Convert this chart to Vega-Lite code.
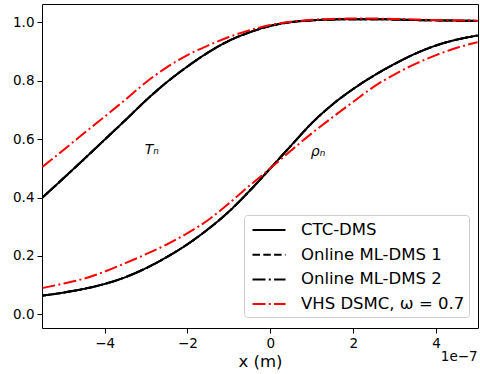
{
  "$schema": "https://vega.github.io/schema/vega-lite/v6.json",
  "width": 436,
  "height": 324,
  "autosize": {"type": "none"},
  "padding": {"left": 42, "top": 4, "right": 2, "bottom": 46},
  "config": {
    "font": "DejaVu Sans",
    "view": {"stroke": "#000000", "strokeWidth": 1},
    "axis": {
      "grid": false,
      "domain": false,
      "tickColor": "#000000",
      "tickSize": 5,
      "tickWidth": 1,
      "labelColor": "#000000",
      "labelFont": "DejaVu Sans",
      "labelFontSize": 13.5,
      "titleFont": "DejaVu Sans",
      "titleFontSize": 16.5,
      "titleFontWeight": "normal",
      "titleColor": "#000000"
    },
    "legend": {
      "orient": "none",
      "legendX": 202,
      "legendY": 211,
      "title": null,
      "symbolType": "M-1.65,0H1.65",
      "symbolFillColor": "transparent",
      "symbolStrokeWidth": 2,
      "symbolSize": 400,
      "symbolOffset": 10,
      "labelFont": "DejaVu Sans",
      "labelFontSize": 16.5,
      "labelColor": "#000000",
      "labelLimit": 0,
      "fillColor": "rgba(255,255,255,0.8)",
      "strokeColor": "#cccccc",
      "cornerRadius": 3,
      "padding": 4,
      "rowPadding": 4.7,
      "labelOffset": 21
    }
  },
  "datasets": {
    "curves": [
      {"x": -5.5, "qty": "T", "ctc": 0.400, "ml1": 0.400, "ml2": 0.400, "vhs": 0.505},
      {"x": -5.0, "qty": "T", "ctc": 0.465, "ml1": 0.465, "ml2": 0.465, "vhs": 0.562},
      {"x": -4.5, "qty": "T", "ctc": 0.531, "ml1": 0.531, "ml2": 0.531, "vhs": 0.620},
      {"x": -4.0, "qty": "T", "ctc": 0.598, "ml1": 0.598, "ml2": 0.598, "vhs": 0.677},
      {"x": -3.5, "qty": "T", "ctc": 0.665, "ml1": 0.665, "ml2": 0.665, "vhs": 0.735},
      {"x": -3.0, "qty": "T", "ctc": 0.733, "ml1": 0.733, "ml2": 0.733, "vhs": 0.795},
      {"x": -2.5, "qty": "T", "ctc": 0.795, "ml1": 0.795, "ml2": 0.795, "vhs": 0.846},
      {"x": -2.0, "qty": "T", "ctc": 0.849, "ml1": 0.849, "ml2": 0.849, "vhs": 0.888},
      {"x": -1.5, "qty": "T", "ctc": 0.897, "ml1": 0.897, "ml2": 0.897, "vhs": 0.921},
      {"x": -1.0, "qty": "T", "ctc": 0.937, "ml1": 0.937, "ml2": 0.937, "vhs": 0.950},
      {"x": -0.5, "qty": "T", "ctc": 0.966, "ml1": 0.966, "ml2": 0.966, "vhs": 0.973},
      {"x": 0.0, "qty": "T", "ctc": 0.988, "ml1": 0.988, "ml2": 0.988, "vhs": 0.991},
      {"x": 0.5, "qty": "T", "ctc": 1.001, "ml1": 1.001, "ml2": 1.001, "vhs": 1.002},
      {"x": 1.0, "qty": "T", "ctc": 1.007, "ml1": 1.007, "ml2": 1.007, "vhs": 1.009},
      {"x": 1.5, "qty": "T", "ctc": 1.010, "ml1": 1.010, "ml2": 1.010, "vhs": 1.012},
      {"x": 2.0, "qty": "T", "ctc": 1.011, "ml1": 1.011, "ml2": 1.011, "vhs": 1.013},
      {"x": 2.5, "qty": "T", "ctc": 1.011, "ml1": 1.011, "ml2": 1.011, "vhs": 1.013},
      {"x": 3.0, "qty": "T", "ctc": 1.010, "ml1": 1.010, "ml2": 1.010, "vhs": 1.012},
      {"x": 3.5, "qty": "T", "ctc": 1.008, "ml1": 1.008, "ml2": 1.008, "vhs": 1.010},
      {"x": 4.0, "qty": "T", "ctc": 1.007, "ml1": 1.007, "ml2": 1.007, "vhs": 1.008},
      {"x": 4.5, "qty": "T", "ctc": 1.006, "ml1": 1.006, "ml2": 1.006, "vhs": 1.007},
      {"x": 5.0, "qty": "T", "ctc": 1.005, "ml1": 1.005, "ml2": 1.005, "vhs": 1.006},
      {"x": -5.5, "qty": "rho", "ctc": 0.064, "ml1": 0.064, "ml2": 0.064, "vhs": 0.090},
      {"x": -5.0, "qty": "rho", "ctc": 0.074, "ml1": 0.074, "ml2": 0.074, "vhs": 0.105},
      {"x": -4.5, "qty": "rho", "ctc": 0.087, "ml1": 0.087, "ml2": 0.087, "vhs": 0.122},
      {"x": -4.0, "qty": "rho", "ctc": 0.104, "ml1": 0.104, "ml2": 0.104, "vhs": 0.146},
      {"x": -3.5, "qty": "rho", "ctc": 0.127, "ml1": 0.127, "ml2": 0.127, "vhs": 0.175},
      {"x": -3.0, "qty": "rho", "ctc": 0.158, "ml1": 0.158, "ml2": 0.158, "vhs": 0.206},
      {"x": -2.5, "qty": "rho", "ctc": 0.196, "ml1": 0.196, "ml2": 0.196, "vhs": 0.239},
      {"x": -2.0, "qty": "rho", "ctc": 0.240, "ml1": 0.240, "ml2": 0.240, "vhs": 0.278},
      {"x": -1.5, "qty": "rho", "ctc": 0.292, "ml1": 0.292, "ml2": 0.292, "vhs": 0.323},
      {"x": -1.0, "qty": "rho", "ctc": 0.352, "ml1": 0.352, "ml2": 0.352, "vhs": 0.380},
      {"x": -0.5, "qty": "rho", "ctc": 0.423, "ml1": 0.423, "ml2": 0.423, "vhs": 0.441},
      {"x": 0.0, "qty": "rho", "ctc": 0.500, "ml1": 0.500, "ml2": 0.500, "vhs": 0.500},
      {"x": 0.5, "qty": "rho", "ctc": 0.578, "ml1": 0.578, "ml2": 0.578, "vhs": 0.561},
      {"x": 1.0, "qty": "rho", "ctc": 0.655, "ml1": 0.655, "ml2": 0.655, "vhs": 0.620},
      {"x": 1.5, "qty": "rho", "ctc": 0.719, "ml1": 0.719, "ml2": 0.719, "vhs": 0.675},
      {"x": 2.0, "qty": "rho", "ctc": 0.772, "ml1": 0.772, "ml2": 0.772, "vhs": 0.728},
      {"x": 2.5, "qty": "rho", "ctc": 0.818, "ml1": 0.818, "ml2": 0.818, "vhs": 0.780},
      {"x": 3.0, "qty": "rho", "ctc": 0.858, "ml1": 0.858, "ml2": 0.858, "vhs": 0.822},
      {"x": 3.5, "qty": "rho", "ctc": 0.893, "ml1": 0.893, "ml2": 0.893, "vhs": 0.858},
      {"x": 4.0, "qty": "rho", "ctc": 0.921, "ml1": 0.921, "ml2": 0.921, "vhs": 0.888},
      {"x": 4.5, "qty": "rho", "ctc": 0.941, "ml1": 0.941, "ml2": 0.941, "vhs": 0.913},
      {"x": 5.0, "qty": "rho", "ctc": 0.955, "ml1": 0.955, "ml2": 0.955, "vhs": 0.932}
    ],
    "labels": [
      {"x": -2.86, "y": 0.563, "text": "Tₙ"},
      {"x": 1.15, "y": 0.557, "text": "ρₙ"}
    ],
    "offset": [
      {"x": 5.0, "y": -0.047, "text": "1e−7"}
    ]
  },
  "layer": [
    {
      "data": {"name": "curves"},
      "transform": [
        {"fold": ["ctc", "ml1", "ml2", "vhs"], "as": ["series", "yv"]}
      ],
      "mark": {"type": "line", "strokeWidth": 2, "clip": true, "interpolate": "monotone"},
      "encoding": {
        "x": {
          "field": "x",
          "type": "quantitative",
          "scale": {"domain": [-5.51, 5.01], "nice": false, "zero": false},
          "axis": {"values": [-4, -2, 0, 2, 4], "format": "d", "title": "x (m)", "labelPadding": 3, "titlePadding": 4}
        },
        "y": {
          "field": "yv",
          "type": "quantitative",
          "scale": {"domain": [-0.047, 1.063], "nice": false, "zero": false},
          "axis": {"values": [0, 0.2, 0.4, 0.6, 0.8, 1.0], "format": ".1f", "title": null, "labelPadding": 3}
        },
        "detail": {"field": "qty"},
        "color": {
          "field": "series",
          "type": "nominal",
          "scale": {"domain": ["ctc", "ml1", "ml2", "vhs"], "range": ["#000000", "#000000", "#000000", "#ff0000"]},
          "legend": {"labelExpr": "datum.value == 'ctc' ? 'CTC-DMS' : datum.value == 'ml1' ? 'Online ML-DMS 1' : datum.value == 'ml2' ? 'Online ML-DMS 2' : 'VHS DSMC, ω = 0.7'"}
        },
        "strokeDash": {
          "field": "series",
          "type": "nominal",
          "scale": {"domain": ["ctc", "ml1", "ml2", "vhs"], "range": [[1, 0], [7.5, 3.3], [13, 3.3, 2, 3.3], [13, 3.3, 2, 3.3]]},
          "legend": {"labelExpr": "datum.value == 'ctc' ? 'CTC-DMS' : datum.value == 'ml1' ? 'Online ML-DMS 1' : datum.value == 'ml2' ? 'Online ML-DMS 2' : 'VHS DSMC, ω = 0.7'"}
        }
      }
    },
    {
      "data": {"name": "labels"},
      "mark": {"type": "text", "fontStyle": "italic", "fontSize": 14, "font": "DejaVu Sans", "color": "#000000", "align": "center", "baseline": "middle"},
      "encoding": {
        "x": {"field": "x", "type": "quantitative"},
        "y": {"field": "y", "type": "quantitative"},
        "text": {"field": "text"}
      }
    },
    {
      "data": {"name": "offset"},
      "mark": {"type": "text", "fontSize": 13.5, "font": "DejaVu Sans", "color": "#000000", "align": "right", "baseline": "middle", "dy": 29},
      "encoding": {
        "x": {"field": "x", "type": "quantitative"},
        "y": {"field": "y", "type": "quantitative"},
        "text": {"field": "text"}
      }
    }
  ]
}
